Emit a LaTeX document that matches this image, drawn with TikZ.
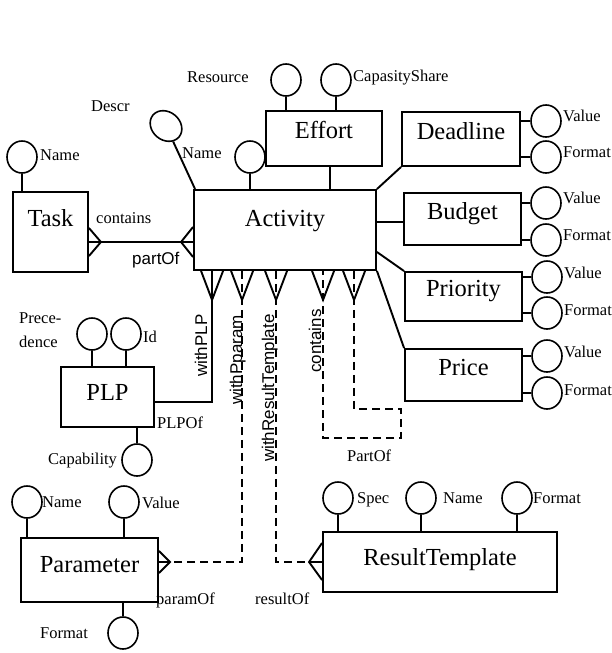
\documentclass[tikz,border=0pt]{standalone}
\usepackage{fontspec}
\setmainfont{Liberation Serif}
\setsansfont{Liberation Sans}
\usetikzlibrary{shapes.geometric}

\tikzset{
  ent/.style={draw, line width=1.9pt, inner sep=0pt, text height=8pt, text depth=8pt,
              font=\fontsize{24.5pt}{24.5pt}\selectfont},
  attr/.style={draw, ellipse, line width=1.6pt, minimum width=30pt, minimum height=32pt, inner sep=0pt},
  lbl/.style={inner sep=0pt, anchor=base west, font=\fontsize{16.5pt}{16.5pt}\selectfont},
  slbl/.style={inner sep=0pt, anchor=base west, font=\sffamily\fontsize{17pt}{17pt}\selectfont},
  vlbl/.style={slbl, rotate=90},
  rel/.style={line width=1.9pt},
  reld/.style={line width=1.9pt, dash pattern=on 8pt off 5pt},
}

\begin{document}
\begin{tikzpicture}[x=1pt, y=-1pt]
\useasboundingbox (0,0) rectangle (612,653);

% ---------- entities ----------
\node[ent, minimum width=75pt, minimum height=80pt, text height=8pt, text depth=20pt] (task) at (50.5,232) {Task};
\node[ent, minimum width=182pt, minimum height=80pt, text height=8pt, text depth=16pt] (activity) at (285,230) {Activity};
\node[ent, minimum width=116pt, minimum height=55pt] (effort) at (324,138.5) {Effort};
\node[ent, minimum width=118pt, minimum height=54pt] (deadline) at (461,139) {Deadline};
\node[ent, minimum width=117pt, minimum height=52pt] (budget) at (462.5,219) {Budget};
\node[ent, minimum width=117pt, minimum height=49pt] (priority) at (463.5,296.5) {Priority};
\node[ent, minimum width=117pt, minimum height=52pt] (price) at (463.5,375) {Price};
\node[ent, minimum width=93pt, minimum height=60pt, text height=11pt, text depth=5pt] (plp) at (107.5,397) {PLP};
\node[ent, minimum width=137pt, minimum height=64pt, text height=10pt, text depth=6pt] (parameter) at (89.5,570) {Parameter};
\node[ent, minimum width=234pt, minimum height=60pt, text height=11pt, text depth=5pt] (result) at (440,562) {ResultTemplate};

% ---------- attributes ----------
\node[attr] (tname) at (22,157) {};
\draw[rel] (tname.south) -- (tname.south |- task.north);

\node[attr, minimum width=34pt, minimum height=28pt, rotate=-40] (adescr) at (166,126) {};
\draw[rel] (adescr) -- ([xshift=2pt]activity.north west);
\node[attr] (aname) at (250,157) {};
\draw[rel] (aname.south) -- (aname.south |- activity.north);

\node[attr] (eres) at (286,80) {};
\draw[rel] (eres.south) -- (eres.south |- effort.north);
\node[attr] (ecap) at (336,80) {};
\draw[rel] (ecap.south) -- (ecap.south |- effort.north);

\node[attr] (dval) at (546,121) {};
\node[attr] (dfmt) at (546,157) {};
\draw[rel] (dval.west) -- (dval.west -| deadline.east);
\draw[rel] (dfmt.west) -- (dfmt.west -| deadline.east);

\node[attr] (bval) at (546,203) {};
\node[attr] (bfmt) at (546,240) {};
\draw[rel] (bval.west) -- (bval.west -| budget.east);
\draw[rel] (bfmt.west) -- (bfmt.west -| budget.east);

\node[attr] (pval) at (547,277) {};
\node[attr] (pfmt) at (547,313) {};
\draw[rel] (pval.west) -- (pval.west -| priority.east);
\draw[rel] (pfmt.west) -- (pfmt.west -| priority.east);

\node[attr] (cval) at (547,356) {};
\node[attr] (cfmt) at (547,393) {};
\draw[rel] (cval.west) -- (cval.west -| price.east);
\draw[rel] (cfmt.west) -- (cfmt.west -| price.east);

\node[attr] (lprec) at (92,334) {};
\node[attr] (lid) at (126,334) {};
\node[attr] (lcap) at (137,460) {};
\draw[rel] (lprec.south) -- (lprec.south |- plp.north);
\draw[rel] (lid.south) -- (lid.south |- plp.north);
\draw[rel] (lcap.north) -- (lcap.north |- plp.south);

\node[attr] (mname) at (27,502) {};
\node[attr] (mval) at (124,502) {};
\node[attr] (mfmt) at (123,633) {};
\draw[rel] (mname.south) -- (mname.south |- parameter.north);
\draw[rel] (mval.south) -- (mval.south |- parameter.north);
\draw[rel] (mfmt.north) -- (mfmt.north |- parameter.south);

\node[attr] (rspec) at (338,498) {};
\node[attr] (rname) at (421,498) {};
\node[attr] (rfmt) at (517,498) {};
\draw[rel] (rspec.south) -- (rspec.south |- result.north);
\draw[rel] (rname.south) -- (rname.south |- result.north);
\draw[rel] (rfmt.south) -- (rfmt.south |- result.north);

% ---------- plain links of Activity ----------
\draw[rel] ([xshift=6pt]effort.south) -- ([xshift=6pt]effort.south |- activity.north);
\draw[rel] (activity.north east) -- (deadline.south west);
\draw[rel] ([yshift=-3pt]budget.west -| activity.east) -- ([yshift=-3pt]budget.west);
\draw[rel] ([yshift=-22pt]activity.east) -- (priority.north west);
\draw[rel] (activity.south east) -- (price.north west);

% ---------- Task -- Activity (many to many) ----------
\draw[rel] ([yshift=-10pt]task.east) -- ([yshift=-12pt]activity.west);
\draw[rel] ([yshift=4pt]task.east) -- ([xshift=12pt,yshift=-10pt]task.east) -- ([yshift=-24pt]task.east);
\draw[rel] ([yshift=3pt]activity.west) -- ([xshift=-12pt,yshift=-12pt]activity.west) -- ([yshift=-27pt]activity.west);

% ---------- crow's feet under Activity ----------
\coordinate (f1) at ([xshift=19pt]activity.south west);
\coordinate (f2) at ([xshift=49pt]activity.south west);
\coordinate (f3) at ([xshift=83pt]activity.south west);
\coordinate (f4) at ([xshift=130pt]activity.south west);
\coordinate (f5) at ([xshift=161pt]activity.south west);
\foreach \f in {f1,f2,f3,f4,f5}
  \draw[rel] ([xshift=-11pt]\f) -- ([yshift=-29pt]\f) -- ([xshift=11pt]\f);

% Activity -- PLP
\draw[rel] (f1) |- ([yshift=-5pt]plp.east);

% Activity -- Parameter
\coordinate (pa) at ([xshift=11pt,yshift=8pt]parameter.east);
\draw[reld] (f2) |- (pa);
\draw[rel] ([yshift=19pt]parameter.east) -- (pa) -- ([yshift=-3pt]parameter.east);
\draw[rel] (pa) -- (pa -| parameter.east);

% Activity -- ResultTemplate
\coordinate (ra) at ([xshift=-13pt]result.west);
\draw[reld] (f3) |- (ra);
\draw[rel] ([yshift=19pt]result.west) -- (ra) -- ([yshift=-18pt]result.west);
\draw[rel] (ra) -- (result.west);

% Activity -- Activity (contains / PartOf)
\draw[reld] (f5) -- ++(0,138) -- ++(47,0) -- ++(0,29) -- ++(-78,0) -- (f4);

% ---------- labels ----------
\node[lbl] (t1) at (40,160) {Name};
\node[lbl] (t2) at (96,223) {contains};
\node[slbl] (t3) at (132,264) {partOf};
\node[lbl] (t4) at (91,111) {Descr};
\node[lbl] (t5) at (182,158) {Name};
\node[lbl] (t6) at (187,82) {Resource};
\node[lbl] (t7) at (353,81) {CapasityShare};
\node[lbl] (t8) at (563,121) {Value};
\node[lbl] (t9) at (563,157) {Format};
\node[lbl] (t10) at (563,203) {Value};
\node[lbl] (t11) at (563,240) {Format};
\node[lbl] (t12) at (564,278) {Value};
\node[lbl] (t13) at (564,315) {Format};
\node[lbl] (t14) at (564,357) {Value};
\node[lbl] (t15) at (564,395) {Format};
\node[lbl] (t16) at (19,323) {Prece-};
\node[lbl] (t17) at (19,347) {dence};
\node[lbl] (t18) at (143,342) {Id};
\node[lbl] (t19) at (157,428) {PLPOf};
\node[lbl] (t20) at (48,464) {Capability};
\node[lbl] (t21) at (42,507) {Name};
\node[lbl] (t22) at (142,508) {Value};
\node[lbl] (t23) at (40,638) {Format};
\node[lbl] (t24) at (156,604) {paramOf};
\node[lbl] (t25) at (255,604) {resultOf};
\node[lbl] (t26) at (357,503) {Spec};
\node[lbl] (t27) at (443,503) {Name};
\node[lbl] (t28) at (533,503) {Format};
\node[lbl] (t29) at (347,461) {PartOf};
\node[vlbl] (t30) at (207,377) {withPLP};
\node[vlbl] (t31) at (242,405) {withPparam};
\node[vlbl] (t32) at (274,462) {withResultTemplate};
\node[vlbl] (t33) at (321,373) {contains};
\end{tikzpicture}
\end{document}
